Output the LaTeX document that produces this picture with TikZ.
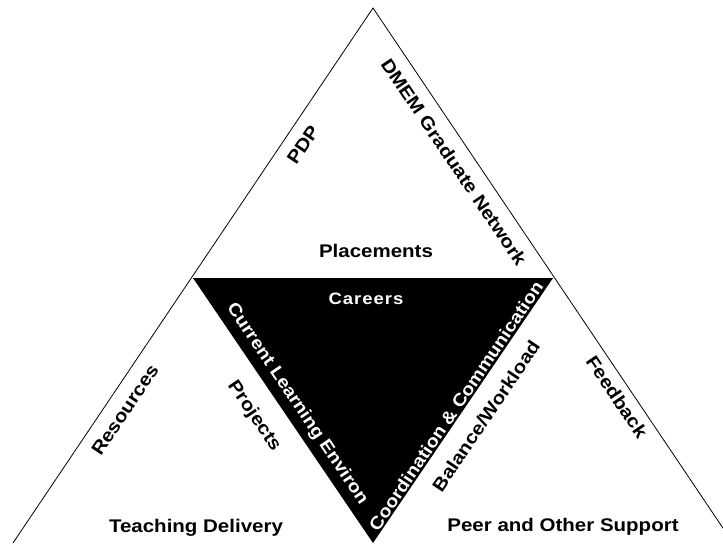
\documentclass[tikz,border=0pt]{standalone}
\usepackage{fontspec}
\setmainfont[FakeStretch=1.12]{Liberation Sans}
\begin{document}
\begin{tikzpicture}[x=1pt,y=-1pt,
  lbl/.style={font=\fontsize{18.3}{20}\selectfont\bfseries, inner sep=0pt},
  wlbl/.style={lbl, text=white, font=\fontsize{17.6}{19}\selectfont\bfseries},
  edge/.style={draw=black, line width=0.8pt}]
\useasboundingbox (0,0) rectangle (723,544);
\clip (0,0) rectangle (723,544);
\coordinate (apex) at (373,8);
\coordinate (bl) at (13,543);
\coordinate (br) at (733,543);
\coordinate (ml) at (193,278);
\coordinate (mr) at (553,278);
\coordinate (mb) at (373,543);
\draw[edge] (bl) -- (apex) -- (br);
\fill[black] (ml) -- (mr) -- (mb) -- cycle;
\draw[edge] (ml) -- (mr);
% horizontal labels
\node[lbl, anchor=base] (place) at (376,257) {Placements};
\node[lbl, anchor=base] (teach) at (196,532) {Teaching Delivery};
\node[lbl, anchor=base] (peer) at (563,531) {Peer and Other Support};
\node[lbl, text=white, anchor=base, font=\fontsize{16.5}{18}\selectfont\bfseries\addfontfeature{LetterSpace=6}] (car) at (366,304) {Careers};
% rotated labels
\node[lbl, rotate=56] (pdp) at (303,145) {PDP};
\node[lbl, rotate=-56] (dmem) at (454,162) {DMEM Graduate Network};
\node[lbl, rotate=56] (res) at (125,410) {Resources};
\node[lbl, rotate=-56] (proj) at (254,416) {Projects};
\node[wlbl, rotate=-56] (cle) at (297,404) {Current Learning Environ};
\node[wlbl, rotate=56] (coord) at (456,406) {Coordination \& Communication};
\node[lbl, rotate=56] (bal) at (486,416) {Balance/Workload};
\node[lbl, rotate=-56] (feed) at (617,397) {Feedback};
\end{tikzpicture}
\end{document}
